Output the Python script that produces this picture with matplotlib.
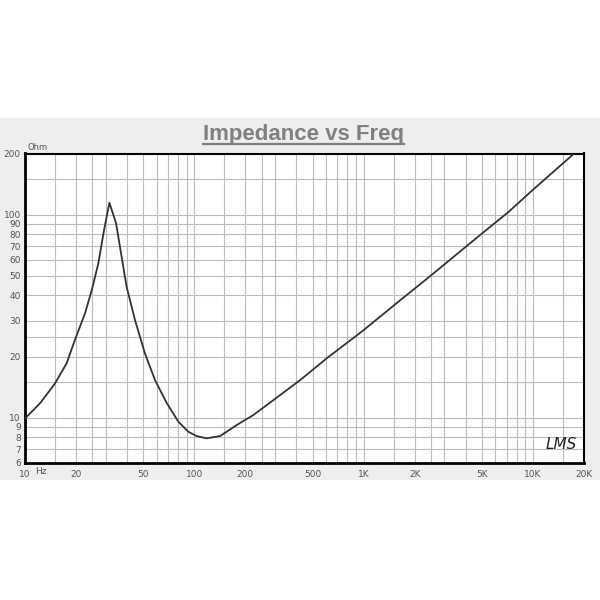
import matplotlib
matplotlib.use("Agg")
import matplotlib.pyplot as plt
from matplotlib.patches import Rectangle
from matplotlib.lines import Line2D

# impedance curve (Hz, Ohm)
freq = [10, 12.3, 15.0, 17.6, 19.7, 22.6, 24.8, 27.1, 29.3, 31.5, 34.5, 37.2,
        39.8, 44.6, 51.1, 58.6, 68.7, 80.5, 92.2, 103, 118, 142, 178, 223,
        293, 421, 605, 1000, 1600, 2470, 5000, 7160, 10000, 17500, 20000]
impedance = [9.9, 11.8, 14.7, 18.5, 24.1, 32.6, 42.5, 57.5, 84, 114.4, 90.6, 62,
             44.2, 30.3, 20.7, 15.3, 11.8, 9.55, 8.52, 8.12, 7.91, 8.12, 9.2, 10.3,
             12.2, 15.3, 19.6, 27.0, 37.2, 49.8, 80.8, 103, 132.7, 200, 222]

x_ticks = [10, 20, 50, 100, 200, 500, 1000, 2000, 5000, 10000, 20000]
x_labels = ["10", "20", "50", "100", "200", "500", "1K", "2K", "5K", "10K", "20K"]
y_ticks = [6, 7, 8, 9, 10, 20, 30, 40, 50, 60, 70, 80, 90, 100, 200]
y_labels = [str(v) for v in y_ticks]

# grid positions per decade
steps = [1, 1.5, 2, 2.5, 3, 4, 5, 6, 7, 8, 9]
x_grid = [s * d for d in (10, 100, 1000, 10000) for s in steps if 10 <= s * d <= 20000]
y_grid = [s * d for d in (1, 10, 100) for s in steps if 6 <= s * d <= 200]

fig = plt.figure(figsize=(6, 6), dpi=100)
fig.patch.set_facecolor("white")
fig.patches.append(Rectangle((0, 0.2), 1, 0.6033, transform=fig.transFigure,
                             facecolor="#eeeeee", edgecolor="none", zorder=-10))

ax = fig.add_axes([25 / 600, 1 - 462.7 / 600, 559 / 600, 309.2 / 600])
ax.set_zorder(1)
ax.set_facecolor("white")
ax.set_xscale("log")
ax.set_yscale("log")
ax.set_xlim(10, 20000)
ax.set_ylim(6, 200)

for g in x_grid:
    ax.axvline(g, color="#bbbbbb", lw=0.8, zorder=1)
for g in y_grid:
    ax.axhline(g, color="#bbbbbb", lw=0.8, zorder=1)

ax.plot(freq, impedance, color="#333333", lw=1.3, zorder=3)

ax.minorticks_off()
ax.set_xticks(x_ticks)
ax.set_xticklabels(x_labels)
ax.set_yticks(y_ticks)
ax.set_yticklabels(y_labels)
ax.tick_params(length=0, labelsize=6.5, labelcolor="#555555")
ax.tick_params(axis="x", pad=5)
ax.tick_params(axis="y", pad=3)
for s in ax.spines.values():
    s.set_color("black")
    s.set_linewidth(1.5)
for s in ("left", "bottom"):
    ax.spines[s].set_linewidth(2)

fig.text(35 / 600, 1 - 471 / 600, "Hz", fontsize=6.5, color="#555555", va="center")
fig.text(27 / 600, 1 - 147 / 600, "Ohm", fontsize=6, color="#555555", va="center")
ax.text(0.987, 0.035, "LMS", transform=ax.transAxes, fontsize=11, style="italic",
        color="#222222", ha="right", va="bottom", fontweight="light")

title = fig.text(0.506, 1 - 140 / 600, "Impedance vs Freq", fontsize=16,
                 fontweight="bold", family="Liberation Sans", color="#808080",
                 ha="center", va="baseline")
fig.canvas.draw()
bb = title.get_window_extent().transformed(fig.transFigure.inverted())
uy = 1 - 143.5 / 600
fig.add_artist(Line2D([bb.x0, bb.x1], [uy, uy], transform=fig.transFigure,
                      color="#808080", lw=1.6))

fig.savefig("out.png", dpi=100)
